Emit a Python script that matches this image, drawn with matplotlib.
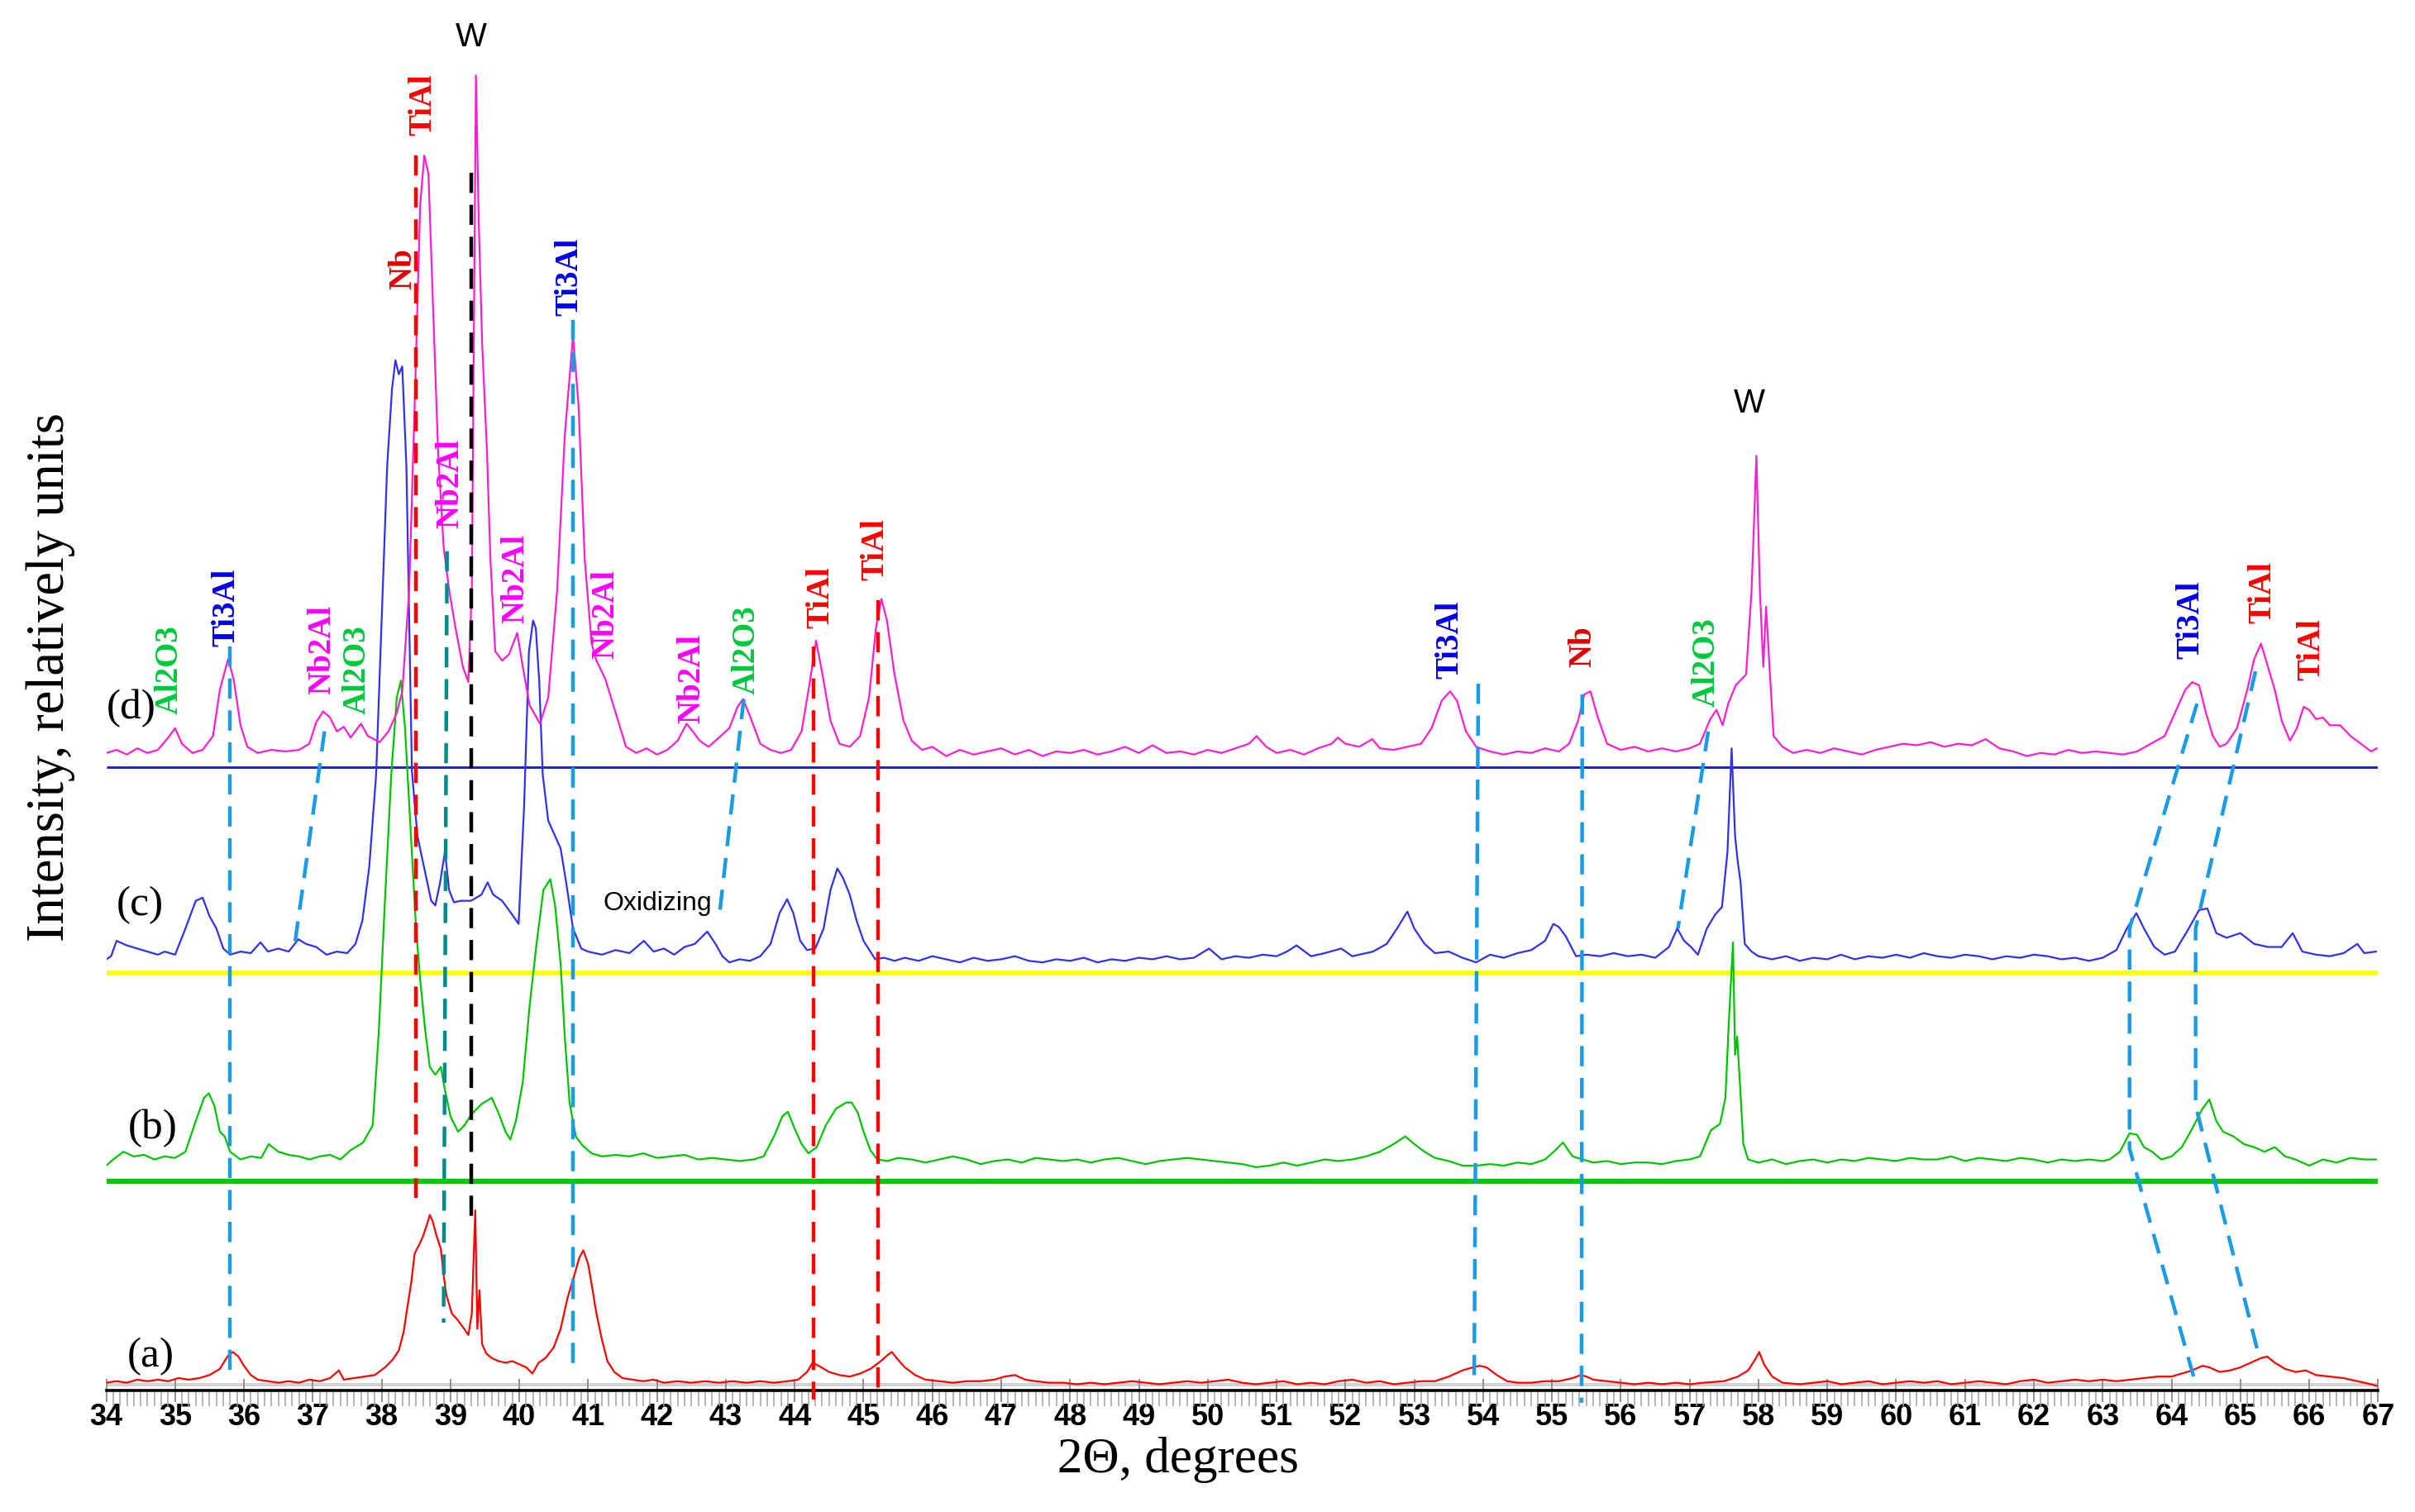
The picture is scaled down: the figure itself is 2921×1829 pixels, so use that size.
import numpy as np
import matplotlib
matplotlib.use('Agg')
import matplotlib.pyplot as plt
from matplotlib.ticker import MultipleLocator

# ---- XRD traces: (2theta, intensity incl. stacking offset) ----
trace_a = [
    (34.00, 5), (34.15, 6), (34.30, 5), (34.45, 7), (34.60, 6), (34.75, 7), (34.90, 6),
    (35.05, 8), (35.20, 7), (35.35, 8), (35.50, 10), (35.65, 14), (35.76, 22), (35.84, 25),
    (35.92, 22), (36.00, 16), (36.10, 10), (36.20, 7), (36.35, 6), (36.50, 5), (36.65, 6),
    (36.80, 5), (36.95, 7), (37.10, 6), (37.25, 8), (37.38, 13), (37.45, 7), (37.60, 8),
    (37.75, 9), (37.90, 10), (38.05, 15), (38.16, 20), (38.25, 26), (38.32, 38), (38.37, 53),
    (38.43, 70), (38.48, 89), (38.55, 95), (38.60, 100), (38.66, 108), (38.70, 114),
    (38.74, 110), (38.80, 100), (38.86, 92), (38.90, 75), (38.94, 62), (39.02, 50),
    (39.10, 46), (39.20, 40), (39.26, 36), (39.31, 50), (39.36, 117), (39.39, 40),
    (39.42, 65), (39.46, 30), (39.52, 24), (39.60, 21), (39.70, 19), (39.80, 18), (39.90, 19),
    (40.00, 17), (40.10, 15), (40.19, 11), (40.28, 18), (40.38, 21), (40.50, 28), (40.60, 40),
    (40.70, 60), (40.80, 75), (40.87, 86), (40.93, 91), (41.00, 82), (41.05, 69), (41.12, 50),
    (41.20, 33), (41.28, 19), (41.38, 12), (41.50, 8), (41.65, 7), (41.80, 6), (41.95, 7),
    (42.10, 5), (42.30, 6), (42.50, 5), (42.70, 6), (42.90, 5), (43.10, 6), (43.30, 5),
    (43.50, 6), (43.70, 5), (43.90, 6), (44.05, 7), (44.18, 12), (44.26, 18), (44.35, 16),
    (44.50, 12), (44.65, 10), (44.80, 9), (44.95, 11), (45.10, 14), (45.25, 19), (45.35, 23),
    (45.41, 25), (45.50, 20), (45.60, 15), (45.75, 10), (45.90, 7), (46.10, 6), (46.30, 5),
    (46.50, 6), (46.70, 6), (46.90, 7), (47.05, 9), (47.20, 10), (47.35, 7), (47.50, 6),
    (47.70, 5), (47.90, 5), (48.10, 4), (48.30, 5), (48.50, 4), (48.70, 5), (48.90, 6),
    (49.10, 5), (49.30, 4), (49.50, 5), (49.70, 6), (49.90, 5), (50.10, 6), (50.30, 7),
    (50.50, 5), (50.70, 4), (50.90, 5), (51.10, 6), (51.30, 4), (51.50, 5), (51.70, 4),
    (51.90, 6), (52.10, 7), (52.30, 5), (52.50, 6), (52.70, 4), (52.90, 5), (53.10, 6),
    (53.30, 6), (53.50, 9), (53.70, 13), (53.85, 15), (53.95, 16), (54.05, 15), (54.20, 10),
    (54.35, 6), (54.50, 5), (54.70, 5), (54.90, 6), (55.10, 6), (55.30, 8), (55.42, 10),
    (55.50, 9), (55.60, 7), (55.80, 6), (56.00, 5), (56.20, 4), (56.40, 5), (56.60, 4),
    (56.80, 5), (57.00, 4), (57.20, 5), (57.50, 6), (57.70, 9), (57.85, 13), (57.95, 20),
    (58.01, 25), (58.08, 17), (58.20, 9), (58.35, 5), (58.60, 4), (58.80, 5), (59.00, 6),
    (59.20, 4), (59.40, 5), (59.60, 6), (59.80, 4), (60.00, 5), (60.20, 6), (60.40, 5),
    (60.60, 6), (60.80, 4), (61.00, 5), (61.20, 6), (61.40, 5), (61.60, 4), (61.80, 6),
    (62.00, 7), (62.20, 5), (62.40, 6), (62.60, 7), (62.80, 6), (63.00, 7), (63.20, 6),
    (63.40, 7), (63.60, 8), (63.80, 9), (64.00, 9), (64.15, 11), (64.30, 13), (64.45, 16),
    (64.55, 15), (64.70, 12), (64.85, 13), (65.00, 15), (65.15, 18), (65.30, 21), (65.39, 22),
    (65.50, 18), (65.65, 14), (65.80, 12), (65.95, 13), (66.10, 10), (66.30, 9), (66.50, 8),
    (66.70, 6), (66.90, 4), (66.98, 3),
]

trace_b = [
    (34.00, 146), (34.10, 150), (34.25, 155), (34.40, 152), (34.55, 153), (34.70, 150),
    (34.85, 152), (35.00, 151), (35.15, 155), (35.30, 175), (35.42, 190), (35.49, 193),
    (35.57, 185), (35.65, 168), (35.72, 165), (35.80, 155), (35.95, 150), (36.10, 152),
    (36.25, 151), (36.36, 160), (36.50, 155), (36.65, 153), (36.80, 152), (36.95, 150),
    (37.10, 152), (37.25, 153), (37.40, 150), (37.55, 156), (37.73, 161), (37.87, 172),
    (37.96, 234), (38.05, 320), (38.14, 400), (38.22, 450), (38.28, 461), (38.34, 430),
    (38.42, 365), (38.50, 300), (38.56, 267), (38.63, 235), (38.70, 210), (38.78, 205),
    (38.86, 210), (38.92, 195), (39.00, 178), (39.11, 168), (39.20, 172), (39.30, 179),
    (39.45, 186), (39.60, 190), (39.70, 180), (39.80, 168), (39.87, 163), (39.95, 175),
    (40.05, 200), (40.15, 250), (40.25, 290), (40.35, 325), (40.45, 332), (40.52, 315),
    (40.60, 277), (40.66, 230), (40.73, 187), (40.82, 165), (40.92, 159), (41.05, 154),
    (41.20, 152), (41.40, 153), (41.60, 152), (41.80, 154), (42.00, 151), (42.20, 152),
    (42.40, 153), (42.60, 150), (42.80, 151), (43.00, 150), (43.20, 149), (43.40, 150),
    (43.55, 152), (43.70, 165), (43.82, 178), (43.90, 181), (44.00, 170), (44.10, 160),
    (44.20, 154), (44.32, 158), (44.45, 172), (44.60, 183), (44.75, 187), (44.83, 187),
    (44.92, 180), (45.00, 168), (45.10, 156), (45.20, 150), (45.35, 149), (45.50, 151),
    (45.70, 150), (45.90, 148), (46.10, 150), (46.30, 152), (46.50, 150), (46.70, 147),
    (46.90, 149), (47.10, 150), (47.30, 148), (47.50, 151), (47.70, 150), (47.90, 149),
    (48.10, 150), (48.30, 148), (48.50, 150), (48.70, 151), (48.90, 149), (49.10, 147),
    (49.30, 149), (49.50, 150), (49.70, 151), (49.90, 150), (50.10, 149), (50.30, 148),
    (50.50, 147), (50.70, 145), (50.90, 146), (51.10, 148), (51.30, 146), (51.50, 148),
    (51.70, 150), (51.90, 149), (52.10, 150), (52.30, 152), (52.50, 155), (52.70, 160),
    (52.87, 165), (53.00, 160), (53.15, 155), (53.30, 151), (53.50, 149), (53.70, 146),
    (53.90, 146), (54.10, 147), (54.30, 146), (54.50, 148), (54.70, 147), (54.90, 150),
    (55.05, 156), (55.16, 161), (55.30, 152), (55.45, 150), (55.60, 148), (55.80, 149),
    (56.00, 147), (56.20, 148), (56.40, 148), (56.60, 147), (56.80, 149), (57.00, 150),
    (57.15, 152), (57.31, 169), (57.44, 173), (57.52, 190), (57.57, 240), (57.63, 291),
    (57.66, 218), (57.69, 230), (57.73, 200), (57.78, 160), (57.85, 150), (58.00, 148),
    (58.20, 150), (58.40, 147), (58.60, 149), (58.80, 150), (59.00, 148), (59.20, 150),
    (59.40, 149), (59.60, 151), (59.80, 150), (60.00, 149), (60.20, 151), (60.40, 150),
    (60.60, 150), (60.80, 152), (61.00, 149), (61.20, 151), (61.40, 150), (61.60, 149),
    (61.80, 151), (62.00, 150), (62.20, 148), (62.40, 150), (62.60, 149), (62.80, 150),
    (63.00, 149), (63.10, 150), (63.25, 155), (63.39, 167), (63.50, 166), (63.60, 158),
    (63.72, 155), (63.85, 150), (64.00, 152), (64.15, 158), (64.30, 170), (64.45, 183),
    (64.55, 189), (64.65, 175), (64.75, 168), (64.90, 165), (65.05, 160), (65.20, 158),
    (65.35, 155), (65.50, 158), (65.65, 152), (65.80, 150), (66.00, 146), (66.20, 150),
    (66.40, 148), (66.60, 151), (66.80, 150), (66.97, 150),
]

trace_c = [
    (34.00, 280), (34.07, 282), (34.15, 292), (34.30, 289), (34.45, 287), (34.60, 285),
    (34.75, 283), (34.85, 285), (35.00, 283), (35.15, 300), (35.30, 318), (35.40, 320),
    (35.50, 308), (35.60, 300), (35.70, 287), (35.80, 283), (35.95, 285), (36.10, 284),
    (36.24, 291), (36.35, 285), (36.50, 287), (36.65, 285), (36.79, 293), (36.90, 290),
    (37.05, 288), (37.20, 283), (37.35, 285), (37.50, 284), (37.62, 290), (37.72, 305),
    (37.82, 340), (37.92, 400), (38.00, 500), (38.08, 600), (38.15, 650), (38.20, 669),
    (38.25, 660), (38.30, 665), (38.36, 600), (38.44, 402), (38.52, 360), (38.62, 339),
    (38.72, 318), (38.78, 315), (38.85, 330), (38.92, 350), (38.98, 325), (39.05, 317),
    (39.15, 318), (39.30, 318), (39.45, 322), (39.54, 330), (39.62, 322), (39.75, 318),
    (39.88, 310), (39.99, 303), (40.07, 380), (40.14, 480), (40.20, 500), (40.24, 495),
    (40.29, 460), (40.34, 400), (40.42, 370), (40.52, 360), (40.60, 352), (40.68, 330),
    (40.78, 300), (40.90, 287), (41.00, 285), (41.20, 283), (41.40, 286), (41.60, 284),
    (41.81, 292), (41.95, 285), (42.10, 287), (42.25, 283), (42.40, 288), (42.55, 290),
    (42.73, 298), (42.85, 290), (42.95, 282), (43.05, 278), (43.20, 280), (43.35, 279),
    (43.50, 282), (43.65, 290), (43.78, 310), (43.89, 319), (43.98, 310), (44.08, 292),
    (44.18, 286), (44.30, 287), (44.42, 300), (44.52, 325), (44.62, 339), (44.70, 333),
    (44.80, 322), (44.90, 305), (45.00, 292), (45.10, 285), (45.17, 280), (45.30, 281),
    (45.45, 279), (45.60, 281), (45.80, 279), (46.00, 282), (46.20, 280), (46.40, 278),
    (46.60, 281), (46.80, 279), (47.00, 280), (47.20, 282), (47.40, 279), (47.60, 278),
    (47.80, 280), (48.00, 279), (48.20, 281), (48.40, 278), (48.60, 280), (48.80, 279),
    (49.00, 281), (49.20, 280), (49.40, 282), (49.60, 280), (49.80, 281), (50.02, 287),
    (50.20, 280), (50.40, 282), (50.60, 281), (50.80, 283), (51.00, 282), (51.15, 285),
    (51.29, 289), (51.50, 282), (51.70, 284), (51.94, 287), (52.10, 282), (52.40, 285),
    (52.60, 290), (52.75, 300), (52.90, 311), (53.00, 300), (53.15, 290), (53.30, 284),
    (53.50, 285), (53.70, 281), (53.90, 278), (54.10, 283), (54.30, 281), (54.50, 284),
    (54.70, 286), (54.90, 292), (55.02, 303), (55.10, 301), (55.20, 295), (55.35, 282),
    (55.50, 283), (55.70, 282), (55.90, 284), (56.10, 282), (56.30, 283), (56.50, 281),
    (56.70, 288), (56.82, 300), (56.92, 292), (57.02, 288), (57.12, 283), (57.25, 300),
    (57.37, 309), (57.47, 314), (57.55, 350), (57.61, 417), (57.66, 360), (57.70, 343),
    (57.74, 330), (57.80, 290), (57.90, 285), (58.00, 282), (58.20, 280), (58.40, 282),
    (58.60, 279), (58.80, 281), (59.00, 280), (59.20, 283), (59.40, 280), (59.60, 282),
    (59.80, 281), (60.00, 283), (60.20, 281), (60.40, 284), (60.60, 282), (60.80, 281),
    (61.00, 283), (61.20, 282), (61.40, 280), (61.60, 282), (61.80, 281), (62.00, 283),
    (62.20, 282), (62.40, 280), (62.60, 281), (62.80, 279), (63.00, 281), (63.20, 286),
    (63.35, 300), (63.49, 310), (63.60, 300), (63.75, 288), (63.90, 283), (64.05, 285),
    (64.25, 300), (64.40, 312), (64.52, 313), (64.65, 297), (64.80, 294), (65.00, 297),
    (65.20, 290), (65.40, 288), (65.60, 288), (65.76, 297), (65.90, 285), (66.10, 283),
    (66.30, 282), (66.50, 284), (66.70, 290), (66.80, 284), (66.97, 285),
]

trace_d = [
    (34.00, 414), (34.15, 416), (34.30, 413), (34.45, 417), (34.60, 414), (34.75, 416),
    (34.90, 424), (35.00, 430), (35.10, 420), (35.25, 414), (35.40, 416), (35.55, 425),
    (35.65, 455), (35.77, 475), (35.85, 462), (35.95, 432), (36.05, 418), (36.20, 414),
    (36.40, 416), (36.60, 415), (36.80, 416), (36.95, 420), (37.05, 434), (37.15, 441),
    (37.25, 437), (37.35, 428), (37.45, 431), (37.55, 424), (37.70, 433), (37.80, 425),
    (37.97, 421), (38.10, 428), (38.22, 440), (38.30, 454), (38.40, 520), (38.48, 640),
    (38.56, 770), (38.62, 802), (38.68, 790), (38.75, 700), (38.82, 610), (38.90, 548),
    (38.98, 520), (39.07, 496), (39.18, 470), (39.26, 460), (39.31, 520), (39.37, 854),
    (39.41, 760), (39.46, 680), (39.53, 610), (39.58, 540), (39.65, 480), (39.75, 474),
    (39.85, 478), (39.97, 492), (40.05, 470), (40.15, 445), (40.30, 433), (40.42, 450),
    (40.55, 520), (40.66, 620), (40.78, 685), (40.86, 640), (40.95, 540), (41.05, 485),
    (41.12, 474), (41.25, 462), (41.40, 440), (41.55, 418), (41.70, 414), (41.85, 417),
    (42.00, 413), (42.15, 416), (42.30, 422), (42.43, 433), (42.52, 428), (42.62, 422),
    (42.75, 418), (42.90, 424), (43.05, 430), (43.17, 444), (43.25, 449), (43.35, 438),
    (43.50, 420), (43.65, 416), (43.80, 414), (43.95, 416), (44.10, 428), (44.22, 460),
    (44.31, 487), (44.40, 466), (44.52, 435), (44.65, 420), (44.80, 418), (44.95, 425),
    (45.08, 450), (45.18, 495), (45.26, 514), (45.34, 500), (45.45, 465), (45.58, 435),
    (45.70, 422), (45.85, 416), (46.00, 418), (46.20, 412), (46.40, 416), (46.60, 413),
    (46.80, 415), (47.00, 417), (47.20, 413), (47.40, 416), (47.60, 412), (47.80, 415),
    (48.00, 414), (48.20, 416), (48.40, 413), (48.60, 415), (48.80, 418), (49.00, 414),
    (49.20, 419), (49.40, 414), (49.60, 415), (49.80, 413), (50.00, 416), (50.20, 414),
    (50.40, 417), (50.60, 420), (50.71, 425), (50.85, 418), (51.00, 414), (51.20, 416),
    (51.40, 413), (51.60, 417), (51.80, 420), (51.89, 424), (52.00, 420), (52.20, 418),
    (52.39, 423), (52.50, 417), (52.70, 416), (52.90, 418), (53.10, 420), (53.25, 430),
    (53.40, 448), (53.52, 454), (53.62, 448), (53.75, 428), (53.90, 418), (54.10, 415),
    (54.30, 413), (54.50, 415), (54.70, 414), (54.90, 417), (55.10, 415), (55.25, 420),
    (55.38, 435), (55.47, 452), (55.56, 454), (55.66, 438), (55.80, 420), (56.00, 416),
    (56.20, 418), (56.40, 415), (56.60, 417), (56.80, 415), (57.00, 417), (57.15, 420),
    (57.30, 436), (57.39, 442), (57.48, 432), (57.56, 446), (57.67, 458), (57.82, 465),
    (57.90, 520), (57.97, 607), (58.02, 520), (58.07, 470), (58.11, 509), (58.16, 470),
    (58.22, 425), (58.35, 418), (58.50, 414), (58.70, 416), (58.90, 414), (59.10, 417),
    (59.30, 415), (59.50, 413), (59.70, 416), (59.90, 418), (60.10, 420), (60.30, 419),
    (60.50, 421), (60.70, 418), (60.90, 420), (61.10, 419), (61.30, 423), (61.50, 417),
    (61.70, 415), (61.90, 412), (62.10, 414), (62.30, 413), (62.50, 416), (62.70, 414),
    (62.90, 415), (63.10, 414), (63.30, 413), (63.50, 415), (63.70, 420), (63.90, 425),
    (64.05, 440), (64.20, 455), (64.30, 460), (64.40, 458), (64.50, 440), (64.60, 425),
    (64.70, 418), (64.80, 420), (64.95, 430), (65.10, 455), (65.20, 475), (65.30, 485),
    (65.40, 470), (65.50, 455), (65.60, 435), (65.72, 422), (65.82, 430), (65.92, 444),
    (66.00, 442), (66.10, 436), (66.20, 437), (66.30, 432), (66.45, 432), (66.60, 425),
    (66.75, 420), (66.90, 415), (66.98, 417),
]

traces = [trace_a, trace_b, trace_c, trace_d]
trace_colors = ['#ff0000', '#00c400', '#3030f0', '#ff1ecf']

# separator lines between stacked patterns (level, colour, width)
separators = [(136, '#00cc00', 4.6), (271, '#ffff00', 4.0), (405, '#2020f0', 2.2)]

# pattern names and where they sit
sample_names = ['(a)', '(b)', '(c)', '(d)']
sample_x = [34.65, 34.67, 34.49, 34.36]
sample_y = [22, 170, 315, 443]

# phase marks: name, 2theta, bottom level
phase_names = ['Al2O3', 'Ti3Al', 'Nb2Al', 'Al2O3', 'Nb', 'TiAl', 'Nb2Al', 'Nb2Al', 'Ti3Al',
               'Nb2Al', 'Nb2Al', 'Al2O3', 'TiAl', 'TiAl', 'Ti3Al', 'Nb', 'Al2O3', 'Ti3Al',
               'TiAl', 'TiAl']
phase_x = [34.92, 35.75, 37.14, 37.65, 38.32, 38.60, 39.00, 39.95, 40.73, 41.26, 42.50,
           43.30, 44.38, 45.17, 53.52, 55.45, 57.25, 64.28, 65.32, 66.04]
phase_y = [439, 483, 452, 439, 715, 815, 560, 498, 698, 475, 433, 452, 495, 526, 462, 470,
           444, 475, 498, 461]
phase_colors = {'Al2O3': '#00c83c', 'Ti3Al': '#0000ee', 'Nb2Al': '#ff00ff',
                'TiAl': '#ff0000', 'Nb': '#e00000'}

# dashed guide lines: colour key, 2theta points, levels
guide_lines = [
    ('sky', [35.80, 35.80], [483, 8]),
    ('sky', [37.17, 36.73], [428, 287]),
    ('red', [38.50, 38.50], [802, 125]),
    ('teal', [38.95, 38.90], [545, 44]),
    ('black', [39.30, 39.30], [791, 113]),
    ('sky', [40.78, 40.78], [695, 16]),
    ('sky', [43.26, 42.90], [449, 306]),
    ('red', [44.27, 44.27], [483, -6]),
    ('red', [45.21, 45.21], [513, -4]),
    ('sky', [53.93, 53.87], [459, 7]),
    ('sky', [55.44, 55.43], [452, -8]),
    ('sky', [57.27, 56.83], [428, 300]),
    ('sky', [64.37, 63.39, 63.39, 64.32], [446, 300, 157, 9]),
    ('sky', [65.22, 64.35, 64.35, 65.26], [467, 300, 185, 24]),
]
guide_colors = {'sky': '#1a9be6', 'red': '#ff0000', 'teal': '#008b8b', 'black': '#000000'}

w_x = [39.30, 57.87]
w_y = [879, 641]

serif = ['Liberation Serif', 'DejaVu Serif']
sans = ['Liberation Sans', 'DejaVu Sans']

fig = plt.figure(figsize=(29.21, 18.29), dpi=100)
ax = fig.add_axes([0.044, 0.0804, 0.9407, 0.9196])
ax.set_xlim(34, 67)
ax.set_ylim(0, 903)

for level, col, lw in separators:
    ax.hlines(level, 34, 67, color=col, lw=lw, zorder=2)

for tr, col in zip(traces, trace_colors):
    arr = np.array(tr)
    ax.plot(arr[:, 0], arr[:, 1], color=col, lw=1.6, zorder=3)

for key, xs, ys in guide_lines:
    ax.plot(xs, ys, color=guide_colors[key], lw=3.2, dashes=(5.5, 3.2),
            zorder=4, clip_on=False)

for name, x, y in zip(phase_names, phase_x, phase_y):
    ax.text(x, y, name, rotation=90, ha='center', va='bottom', color=phase_colors[name],
            fontsize=28, fontweight='bold', family=serif, zorder=5)

for name, x, y in zip(sample_names, sample_x, sample_y):
    ax.text(x, y, name, ha='center', va='center', fontsize=37, family=serif)

for x, y in zip(w_x, w_y):
    ax.text(x, y, 'W', ha='center', va='center', fontsize=29, family=sans, clip_on=False)

ax.text(42.01, 316, 'Oxidizing', ha='center', va='center', fontsize=23, family=sans)

# axis styling: bare bottom axis with dense ticks
for side in ['top', 'right', 'left']:
    ax.spines[side].set_visible(False)
ax.spines['bottom'].set_linewidth(2.6)
ax.hlines(3.5, 34, 67, color='#d2d2d2', lw=3, zorder=1)
ax.set_yticks([])
ax.xaxis.set_major_locator(MultipleLocator(1))
ax.xaxis.set_minor_locator(MultipleLocator(0.1))
ax.tick_params(axis='x', which='minor', direction='out', length=14, width=1.1, color='#a0a0a0')
ax.tick_params(axis='x', which='major', direction='inout', length=20, width=1.3,
               color='#8a8a8a', pad=1)
for lab in ax.get_xticklabels():
    lab.set_family(sans)
    lab.set_fontsize(26)
    lab.set_fontweight('bold')

fig.text(0.021, 0.552, 'Intensity, relatively units', rotation=90, ha='center', va='center',
         fontsize=46.5, family=serif)
fig.text(0.488, 0.0346, '2\u0398, degrees', ha='center', va='center', fontsize=44, family=serif)

fig.savefig('out.png', dpi=100)
